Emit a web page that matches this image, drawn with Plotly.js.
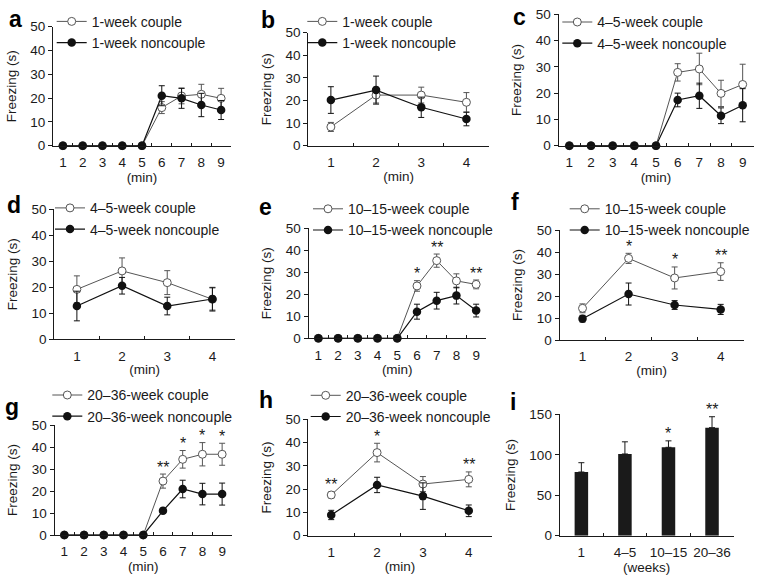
<!DOCTYPE html>
<html><head><meta charset="utf-8">
<script src="https://cdn.plot.ly/plotly-3.0.1.min.js"></script>
<style>html,body{margin:0;padding:0;background:#fff}</style>
</head><body><div id="chart" style="width:762px;height:584px"></div>
<script>
// ---------- data ----------
const minutes9 = ['1','2','3','4','5','6','7','8','9'];
const minutes4 = ['1','2','3','4'];
const ageGroups = ['1','4–5','10–15','20–36'];

const aCouple = [0,0,0,0,0,16,20.9,21.6,19.9];
const aCoupleErr = [0,0,0,0,0,2.5,3.3,4.2,4.2];
const aNon = [0,0,0,0,0,21,19.9,17.1,15];
const aNonErr = [0,0,0,0,0,4.2,4.2,4.9,4];

const bCouple = [8.3,22.4,22.4,19.2];
const bCoupleErr = [2,3.5,3.5,4.3];
const bNon = [20.2,24.6,17,11.8];
const bNonErr = [5.9,6.2,4.5,3];

const cCouple = [0,0,0,0,0,27.9,29.2,19.9,23.3];
const cCoupleErr = [0,0,0,0,0,3.3,6,5,7.7];
const cNon = [0,0,0,0,0,17.4,19,11.4,15.4];
const cNonErr = [0,0,0,0,0,2.6,4.8,3,6.3];

const dCouple = [19.2,26.3,21.8,15.4];
const dCoupleErr = [5.2,5,4.6,4.6];
const dNon = [12.8,20.6,12.8,15.5];
const dNonErr = [5.7,3.2,3.4,4.3];

const eCouple = [0,0,0,0,0,23.8,35.3,26.1,24.5];
const eCoupleErr = [0,0,0,0,0,2.4,3,3.2,2];
const eNon = [0,0,0,0,0,12.1,17.1,19.4,12.6];
const eNonErr = [0,0,0,0,0,3.4,3.8,3.8,2.9];
const eSig = ['','','','','','*','**','','**'];

const fCouple = [14.4,37.1,28.2,31.1];
const fCoupleErr = [2,2.3,5,4];
const fNon = [9.7,20.9,15.9,13.9];
const fNonErr = [1.5,5,2,2.3];
const fSig = ['','*','*','**'];

const gCouple = [0,0,0,0,0,24.5,34.4,36.7,36.7];
const gCoupleErr = [0,0,0,0,0,3.2,4,5.3,5];
const gNon = [0,0,0,0,0,11,20.9,18.6,18.6];
const gNonErr = [0,0,0,0,0,1.2,4,4.9,5];
const gSig = ['','','','','','**','*','*','*'];

const hCouple = [17.5,35.7,22.2,24.2];
const hCoupleErr = [1.3,4,3.2,3.2];
const hNon = [8.9,21.8,17,10.7];
const hNonErr = [2,3.3,5.7,2.5];
const hSig = ['**','*','','**'];

const iTotal = [78.7,101,109.2,133.5];
const iTotalErr = [11.5,15,8,13.5];
const iSig = ['','','*','**'];

const groupNames = ['1-week','1-week','4–5-week','4–5-week','10–15-week','10–15-week','20–36-week','20–36-week'];

// ---------- layout helpers ----------
const W = 762, H = 584;
const FONT = 'Liberation Sans, Arial, Helvetica, sans-serif';
const INK = '#1a1a1a';
const COUPLE_C = '#555';
const NON_C = '#111';
const TICK_FS = 13.5, TITLE_FS = 13.5, LEG_FS = 14;

// panel geometry in pixels: left, right, top(value max), bottom(value 0)
const geom = {
  a:[53,231,26.7,145.7], b:[308.3,489,32.7,145.7], c:[558.5,753.5,14.3,145.7],
  d:[54.3,235,209.3,339.3], e:[308.5,486,228.3,338.3], f:[559.5,743.7,230,340],
  g:[54.5,232,425,535], h:[308.3,491.7,419.3,535.7], i:[559.6,733.8,414.3,535.7]
};
// legend text-start x and legend box top y (px)
const legPos = {
  a:[91.7,5.8], b:[342.3,5.8], c:[597.3,6.4], d:[90,192.3],
  e:[348,193.2], f:[604.7,193.2], g:[87.3,379.4], h:[345.7,379.7]
};
// panel letter centre (px)
const letterPos = {
  a:[15.5,19.3], b:[267.5,20.3], c:[519,17.3], d:[13.5,205.3], e:[265.5,207.3],
  f:[514.5,202.3], g:[11.5,407.3], h:[265.5,400.3], i:[513,402.3]
};

const linePanels = [
  {k:'a', x:minutes9, c:aCouple, ce:aCoupleErr, n:aNon, ne:aNonErr, sig:null, grp:groupNames[0]},
  {k:'b', x:minutes4, c:bCouple, ce:bCoupleErr, n:bNon, ne:bNonErr, sig:null, grp:groupNames[1]},
  {k:'c', x:minutes9, c:cCouple, ce:cCoupleErr, n:cNon, ne:cNonErr, sig:null, grp:groupNames[2]},
  {k:'d', x:minutes4, c:dCouple, ce:dCoupleErr, n:dNon, ne:dNonErr, sig:null, grp:groupNames[3]},
  {k:'e', x:minutes9, c:eCouple, ce:eCoupleErr, n:eNon, ne:eNonErr, sig:eSig, grp:groupNames[4]},
  {k:'f', x:minutes4, c:fCouple, ce:fCoupleErr, n:fNon, ne:fNonErr, sig:fSig, grp:groupNames[5]},
  {k:'g', x:minutes9, c:gCouple, ce:gCoupleErr, n:gNon, ne:gNonErr, sig:gSig, grp:groupNames[6]},
  {k:'h', x:minutes4, c:hCouple, ce:hCoupleErr, n:hNon, ne:hNonErr, sig:hSig, grp:groupNames[7]}
];

const traces = [];
const layout = {
  width:W, height:H, margin:{l:0,r:0,t:0,b:0},
  paper_bgcolor:'#fff', plot_bgcolor:'rgba(0,0,0,0)',
  font:{family:FONT, size:TICK_FS, color:INK},
  showlegend:true, annotations:[]
};

function axisIds(idx){ return idx===1 ? ['x','y','xaxis','yaxis','legend'] : ['x'+idx,'y'+idx,'xaxis'+idx,'yaxis'+idx,'legend'+idx]; }

function setAxes(idx, k, nCats, yMax, yDtick, xTitle){
  const [xl,xr,yt,yb] = geom[k];
  const [xid,yid,xk,yk] = axisIds(idx);
  layout[xk] = {
    type:'category', domain:[xl/W, xr/W], range:[-0.5, nCats-0.5], anchor:yid,
    showline:true, linecolor:INK, linewidth:1, ticks:'inside', tickson:'boundaries',
    ticklen:3, tickwidth:1, tickcolor:INK, showgrid:false, zeroline:false, fixedrange:true,
    tickangle:0, tickfont:{size:TICK_FS, color:INK}, ticklabelstandoff:4,
    title:{text:xTitle, font:{size:TITLE_FS, color:INK}, standoff:2}
  };
  layout[yk] = {
    domain:[1-yb/H, 1-yt/H], range:[0,yMax], anchor:xid,
    showline:true, linecolor:INK, linewidth:1, ticks:'outside', ticklen:4, tickwidth:1, tickcolor:INK,
    tick0:0, dtick:yDtick, showgrid:false, zeroline:false, fixedrange:true,
    tickfont:{size:TICK_FS, color:INK},
    title:{text:'Freezing (s)', font:{size:TITLE_FS, color:INK}, standoff:10.5}
  };
}

function addLetter(k){
  const [cx,cy] = letterPos[k];
  layout.annotations.push({xref:'paper', yref:'paper', x:cx/W, y:1-cy/H, xanchor:'center', yanchor:'middle',
    text:'<b>'+k+'</b>', showarrow:false, font:{size:23, family:FONT, color:'#000'}});
}

linePanels.forEach((p, j) => {
  const idx = j+1;
  const [xid,yid,xk,yk,lk] = axisIds(idx);
  setAxes(idx, p.k, p.x.length, 50, 10, '(min)');
  traces.push({
    type:'scatter', mode:'lines+markers', x:p.x, y:p.c, xaxis:xid, yaxis:yid, legend:lk,
    name:p.grp+' couple', cliponaxis:false,
    line:{color:COUPLE_C, width:1},
    marker:{symbol:'circle', size:8, color:'#fff', line:{color:COUPLE_C, width:1}},
    error_y:{type:'data', array:p.ce, visible:true, color:COUPLE_C, thickness:1, width:3}
  });
  traces.push({
    type:'scatter', mode:'lines+markers', x:p.x, y:p.n, xaxis:xid, yaxis:yid, legend:lk,
    name:p.grp+' noncouple', cliponaxis:false,
    line:{color:NON_C, width:1.2},
    marker:{symbol:'circle', size:8.5, color:NON_C, line:{color:NON_C, width:0}},
    error_y:{type:'data', array:p.ne, visible:true, color:NON_C, thickness:1, width:3}
  });
  const [tx,ty] = legPos[p.k];
  layout[lk] = {
    x:(tx-40)/W, y:1-ty/H, xanchor:'left', yanchor:'top', xref:'paper', yref:'paper',
    bgcolor:'rgba(0,0,0,0)', borderwidth:0, font:{size:LEG_FS, family:FONT, color:INK},
    tracegroupgap:0, itemwidth:30, traceorder:'normal'
  };
  if (p.sig) {
    p.sig.forEach((s, m) => {
      if (!s) return;
      // category index m positions the mark above the couple error bar
      layout.annotations.push({xref:xid, yref:yid, x:m, y:p.c[m]+p.ce[m], text:s,
        showarrow:false, xanchor:'center', yanchor:'middle', yshift:7,
        font:{size:16, family:FONT, color:INK}});
    });
  }
  addLetter(p.k);
});

// panel i: bar chart
setAxes(9, 'i', ageGroups.length, 150, 50, '(weeks)');
traces.push({
  type:'bar', x:ageGroups, y:iTotal, xaxis:'x9', yaxis:'y9', showlegend:false, width:0.31,
  marker:{color:'#1a1a1a', line:{width:0}},
  error_y:{type:'data', symmetric:false, array:iTotalErr, arrayminus:iTotal.map(()=>0), visible:true, color:INK, thickness:1, width:3}
});
iSig.forEach((s, m) => {
  if (!s) return;
  layout.annotations.push({xref:'x9', yref:'y9', x:m, y:iTotal[m]+iTotalErr[m], text:s,
    showarrow:false, xanchor:'center', yanchor:'middle', yshift:7, font:{size:16, family:FONT, color:INK}});
});
addLetter('i');

Plotly.newPlot('chart', traces, layout, {displayModeBar:false, staticPlot:true});
</script></body></html>
